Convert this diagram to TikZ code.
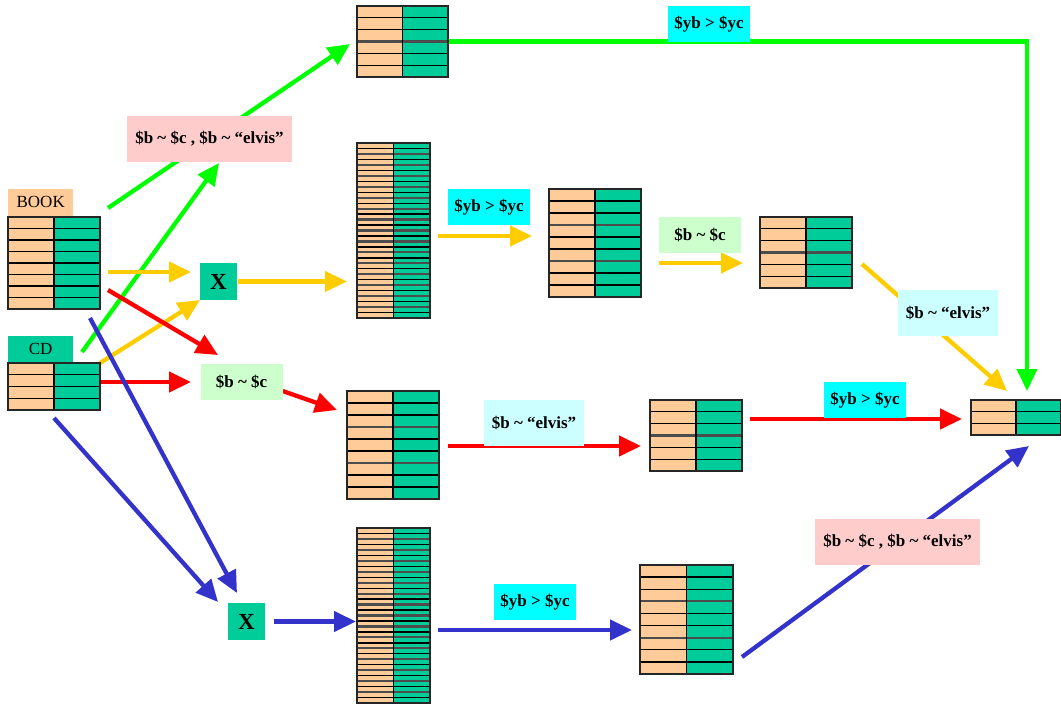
\documentclass[tikz,border=0pt]{standalone}
\usepackage{fontspec}
\setmainfont{Liberation Serif}
\usetikzlibrary{arrows.meta, positioning, backgrounds}

\definecolor{peach}{HTML}{FFCC99}
\definecolor{sea}{HTML}{00CC99}
\definecolor{linkgreen}{HTML}{00FF00}
\definecolor{linkyellow}{HTML}{FFCC00}
\definecolor{linkred}{HTML}{FF0000}
\definecolor{linkblue}{HTML}{3333CC}
\definecolor{cyanbg}{HTML}{00FFFF}
\definecolor{paleblue}{HTML}{CCFFFF}
\definecolor{palegreen}{HTML}{CCFFCC}
\definecolor{palepink}{HTML}{FFCCCC}

% relation table: name, left, top, width, height, rows, rows per block
\newcommand{\reltable}[7]{%
  \fill[peach] (#2,#3) rectangle ++({#4/2},#5);
  \fill[sea] ({#2+#4/2},#3) rectangle ++({#4/2},#5);
  \foreach \r in {1,...,#6}{
    \pgfmathtruncatemacro{\blk}{mod(\r,#7)}
    \ifnum\blk=0 \draw[blockline] (#2,{#3+#5*\r/#6}) -- ++(#4,0);
    \else \draw[rowline] (#2,{#3+#5*\r/#6}) -- ++(#4,0); \fi
  }
  \draw[rowline] ({#2+#4/2},#3) -- ++(0,#5);
  \node[reltab, minimum width=#4pt, minimum height=#5pt, anchor=north west] (#1) at (#2,#3) {};
}

\begin{document}
\begin{tikzpicture}[
    x=1pt, y=-1pt,
    rowline/.style={draw=black, line width=1.3pt},
    blockline/.style={draw=black!70, line width=2.2pt},
    reltab/.style={rectangle, draw=black!85, line width=1.4pt, inner sep=0pt, outer sep=0pt},
    tag/.style={rectangle, inner sep=0pt, minimum width=65pt, minimum height=27pt, font=\fontsize{17}{19}\selectfont},
    joinop/.style={rectangle, fill=sea, inner sep=0pt, minimum size=37pt, font=\fontsize{23}{26}\selectfont\bfseries},
    cond/.style={rectangle, inner sep=0pt, minimum width=82pt, minimum height=36pt, font=\fontsize{17}{20}\selectfont\bfseries},
    sortcond/.style={cond, fill=cyanbg},
    selcond/.style={cond, fill=palegreen},
    elviscond/.style={cond, fill=paleblue, minimum width=100pt, minimum height=46pt},
    bothcond/.style={cond, fill=palepink, minimum width=165pt, minimum height=46pt},
    flow/.style={line width=4.3pt, -{Triangle[length=22pt,width=20pt]}}
]
\useasboundingbox (0,0) rectangle (1061,705);

% Base relations
\node[tag, fill=peach, anchor=south west] (booklabel) at (8,216) {BOOK};
\reltable{book}{8}{217}{92}{92}{8}{8}
\node[tag, fill=sea, anchor=south west] (cdlabel) at (8,363) {CD};
\reltable{cd}{8}{363}{92}{47}{4}{4}

% Intermediate results
\reltable{topsel}{357}{6}{91}{71}{6}{3}
\reltable{joinA}{357}{143}{73}{175}{32}{2}
\reltable{sortA}{549}{189}{92}{108}{9}{3}
\reltable{filtA}{760}{217}{92}{71}{6}{3}
\reltable{midA}{347}{391}{92}{108}{9}{3}
\reltable{midB}{650}{400}{92}{71}{6}{3}
\reltable{joinB}{357}{528}{73}{175}{32}{2}
\reltable{sortB}{640}{565}{93}{109}{9}{3}
\reltable{result}{971}{400}{90}{35}{3}{3}

% Cross products
\node[joinop] (crossA) at (218.5,281.5) {X};
\node[joinop] (crossB) at (246.5,621.5) {X};

% Conditions
\node[sortcond] (ordTop) at (709,24) {\$yb > \$yc};
\node[bothcond] (bothA) at (209.5,139) {\$b \textasciitilde{} \$c , \$b \textasciitilde{} “elvis”};
\node[sortcond] (ordA) at (489,207) {\$yb > \$yc};
\node[selcond] (selB) at (700,235) {\$b \textasciitilde{} \$c};
\node[elviscond] (elvisA) at (948,313) {\$b \textasciitilde{} “elvis”};
\node[selcond] (selC) at (241.5,382) {\$b \textasciitilde{} \$c};
\node[elviscond] (elvisB) at (534,423) {\$b \textasciitilde{} “elvis”};
\node[sortcond] (ordC) at (865,400) {\$yb > \$yc};
\node[bothcond] (bothB) at (897.5,542) {\$b \textasciitilde{} \$c , \$b \textasciitilde{} “elvis”};
\node[sortcond] (ordD) at (535,602) {\$yb > \$yc};

% Loose ends of the arrows
\coordinate (gA1) at (108,208);  \coordinate (gA2) at (350,44);
\coordinate (gB1) at (82,352);   \coordinate (gB2) at (219,163);
\coordinate (gC2) at (1027,391);
\coordinate (yA1) at (108,272);  \coordinate (yA2) at (191,272);
\coordinate (yB1) at (100,363);  \coordinate (yB2) at (200,300);
\coordinate (yD1) at (438,236);  \coordinate (yD2) at (532,236);
\coordinate (yE1) at (659,263);  \coordinate (yE2) at (743,263);
\coordinate (yF1) at (862,264);  \coordinate (yF2) at (1007,391);
\coordinate (rA1) at (108,290);  \coordinate (rA2) at (218,355);
\coordinate (rB1) at (100,382);  \coordinate (rB2) at (191,382);
\coordinate (rC2) at (337,410);
\coordinate (rE1) at (750,419);  \coordinate (rE2) at (962,419);
\coordinate (bA1) at (90,318);   \coordinate (bA2) at (237,593);
\coordinate (bB1) at (54,418);   \coordinate (bB2) at (218,602);
\coordinate (bD1) at (438,630);  \coordinate (bD2) at (632,630);
\coordinate (bE1) at (742,657);  \coordinate (bE2) at (1029,446);

% Arrows
\begin{pgfonlayer}{background}
\draw[flow, linkgreen] (gA1) -- (gA2);
\draw[flow, linkgreen] (gB1) -- (gB2);
\draw[flow, linkgreen] (topsel.east) -| (gC2);

\draw[flow, linkyellow] (yA1) -- (yA2);
\draw[flow, linkyellow] (yB1) -- (yB2);
\draw[flow, linkyellow, shorten <=1pt, shorten >=10pt] (crossA.east) -- (crossA.east -| joinA.west);
\draw[flow, linkyellow] (yD1) -- (yD2);
\draw[flow, linkyellow] (yE1) -- (yE2);
\draw[flow, linkyellow] (yF1) -- (yF2);

\draw[flow, linkred] (rA1) -- (rA2);
\draw[flow, linkred] (rB1) -- (rB2);
\draw[flow, linkred] (selC.east |- 0,391) -- (rC2);
\draw[flow, linkred, shorten <=9pt, shorten >=9pt] (midA.east |- 0,446) -- (midB.west |- 0,446);
\draw[flow, linkred] (rE1) -- (rE2);

\draw[flow, linkblue] (bA1) -- (bA2);
\draw[flow, linkblue] (bB1) -- (bB2);
\draw[flow, linkblue, shorten <=9pt, shorten >=1pt] (crossB.east) -- (crossB.east -| joinB.west);
\draw[flow, linkblue] (bD1) -- (bD2);
\draw[flow, linkblue] (bE1) -- (bE2);
\end{pgfonlayer}

\end{tikzpicture}
\end{document}
